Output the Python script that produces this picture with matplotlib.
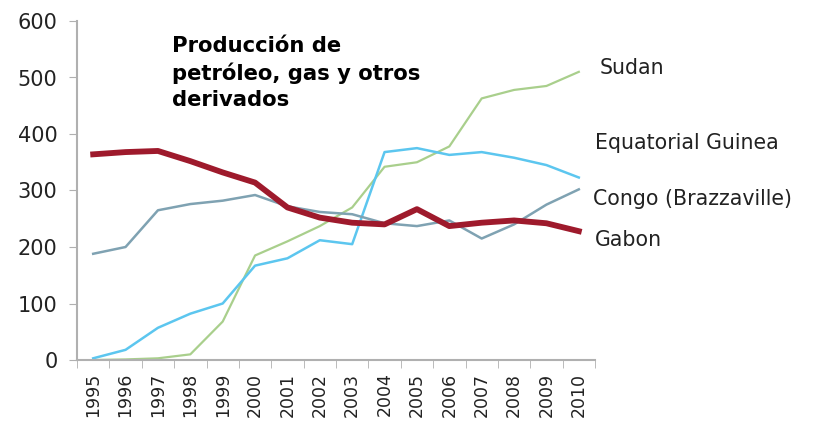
import matplotlib.pyplot as plt
import numpy as np

plt.rcParams['font.family'] = ['DejaVu Sans']

years = [str(y) for y in range(1995, 2011)]
gabon = [364, 368, 370, 352, 332, 314, 270, 252, 243, 240, 267, 237, 243, 247, 242, 228]
congo = [188, 200, 265, 276, 282, 292, 272, 262, 258, 242, 237, 247, 215, 240, 275, 302]
eq_guinea = [3, 18, 57, 82, 100, 167, 180, 212, 205, 368, 375, 363, 368, 358, 345, 323]
sudan = [0, 1, 3, 10, 68, 185, 210, 237, 270, 342, 350, 378, 463, 478, 485, 510]

fig = plt.figure(figsize=(8.13, 4.23), dpi=100)
ax = fig.add_axes([77/813, 1-360/423, (595-77)/813, (360-21)/423])

x = np.arange(len(years))
ax.plot(x, sudan, color='#a9cf8c', lw=1.6)
ax.plot(x, eq_guinea, color='#5cc6ef', lw=1.8)
ax.plot(x, congo, color='#7fa2b2', lw=1.8)
ax.plot(x, gabon, color='#9e1a2c', lw=4.2, solid_joinstyle='round')

ax.set_xlim(-0.5, len(years) - 0.5)
ax.set_ylim(0, 600)
ax.set_yticks(range(0, 601, 100))
ax.set_xticks(x)
ax.set_xticklabels(years, rotation=90, fontsize=12.5, color='#222222')
ax.set_xticks(np.arange(-0.5, len(years), 1), minor=True)
ax.tick_params(axis='x', which='major', length=0, pad=9)
ax.tick_params(axis='x', which='minor', length=6, color='#b0b0b0', direction='out')
ax.tick_params(axis='y', length=6, color='#b0b0b0', labelsize=15, pad=8, labelcolor='#222222')

for s in ['top', 'right']:
    ax.spines[s].set_visible(False)
for s in ['left', 'bottom']:
    ax.spines[s].set_color('#b0b0b0')
    ax.spines[s].set_linewidth(1.5)

ax.text(2.43, 573, 'Producción de\npetróleo, gas y otros\nderivados', fontsize=15.2,
        fontweight='bold', va='top', ha='left', linespacing=1.38)

fig.text(600/813, 1-68/423, 'Sudan', fontsize=14.8, va='center', color='#222222')
fig.text(595/813, 1-143/423, 'Equatorial Guinea', fontsize=14.8, va='center', color='#222222')
fig.text(593/813, 1-199/423, 'Congo (Brazzaville)', fontsize=14.8, va='center', color='#222222')
fig.text(595/813, 1-240/423, 'Gabon', fontsize=14.8, va='center', color='#222222')

fig.savefig('out.png', dpi=100)
